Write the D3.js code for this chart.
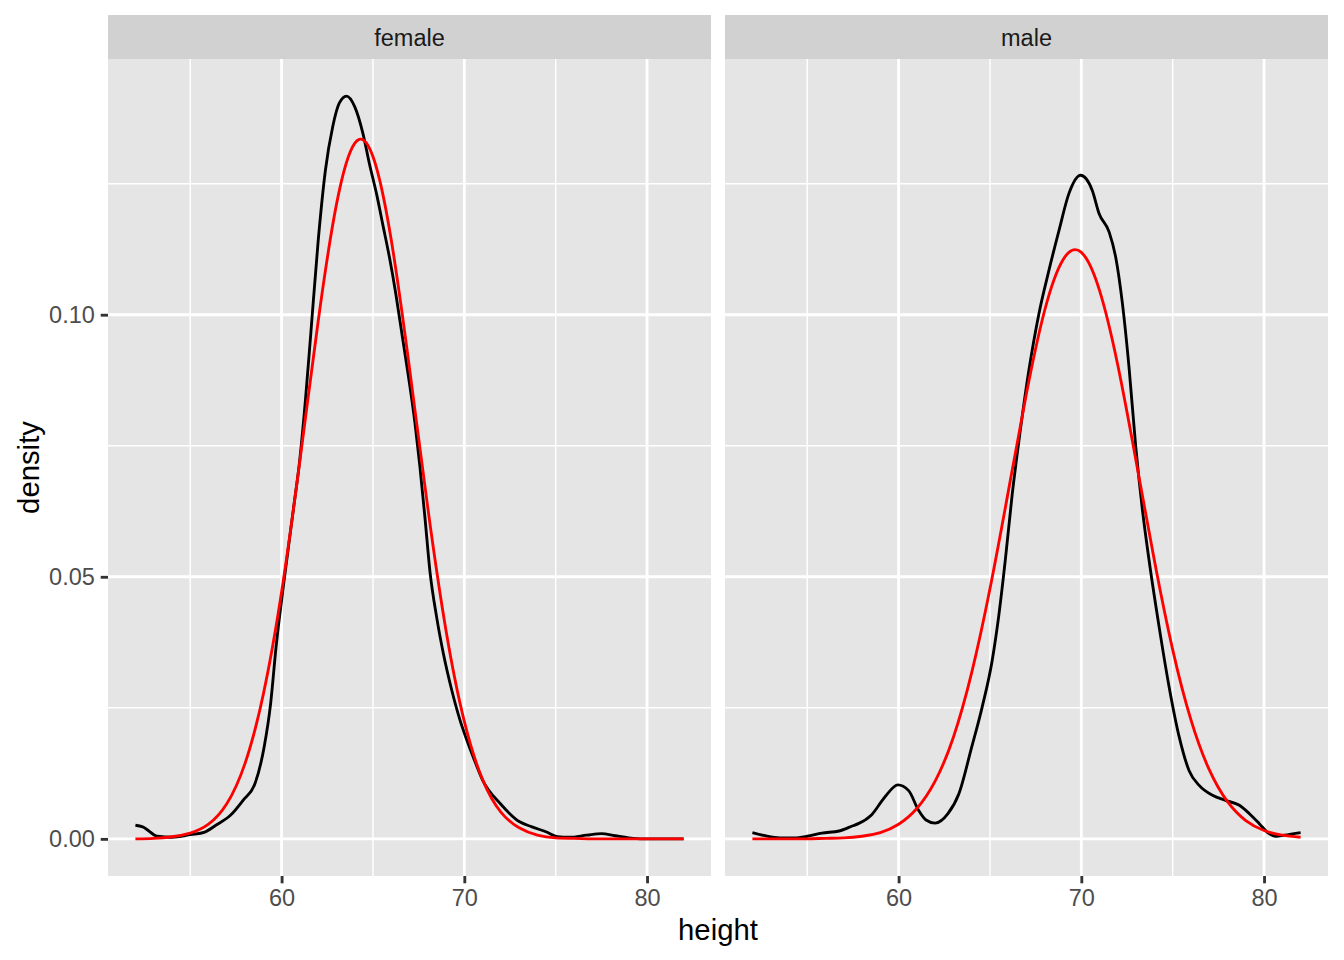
<!DOCTYPE html>
<meta charset="utf-8">
<style>

body {
  margin: 0;
  background: #fff;
}

text {
  font-family: "Liberation Sans", Arial, sans-serif;
}

.tick text {
  font-size: 23.5px;
  fill: #4D4D4D;
}

.strip-label {
  font-size: 23.5px;
  fill: #1A1A1A;
}

.axis-title {
  font-size: 29.3px;
  fill: #000;
}

</style>
<svg width="1344" height="960"></svg>
<script src="https://d3js.org/d3.v7.min.js"></script>
<script>

// facet names
var panels = ["female", "male"];

// tick values
var xTicks = [60, 70, 80],
    xMinor = [55, 65, 75],
    yTicks = [0, 0.05, 0.10],
    yMinor = [0.025, 0.075, 0.125];

// black curve: kernel density, female
var femaleDensityX = [52.0, 52.4, 53.2, 54.0, 55.0, 55.8, 56.4, 57.2, 57.9, 58.55, 59.05, 59.4, 59.7, 60.1,
  60.65, 61.0, 61.3, 61.6, 62.0, 62.4, 62.8, 63.15, 63.55, 64.0, 64.45, 64.8, 65.2, 65.55, 65.9,
  66.25, 66.57, 66.93, 67.3, 67.57, 67.84, 68.12, 68.48, 68.85, 69.31, 69.76, 70.1, 70.5, 71.0,
  72.0, 73.0, 73.7, 74.5, 75.1, 75.75, 76.7, 77.5, 78.25, 79.0, 79.8, 81.0, 82.0];
var femaleDensityY = [0.0026, 0.0023, 0.0005, 0.0003, 0.0008, 0.0013, 0.0026, 0.0045, 0.0074, 0.0106, 0.0176, 0.0258, 0.0367, 0.0483,
  0.0630, 0.0725, 0.0835, 0.0965, 0.1140, 0.1276, 0.1359, 0.1403, 0.1417, 0.1397, 0.1346, 0.1289, 0.1230, 0.1170, 0.1110,
  0.1040, 0.0967, 0.0885, 0.0793, 0.0710, 0.0615, 0.0510, 0.0424, 0.0354, 0.0284, 0.0227, 0.0192, 0.0155, 0.0112,
  0.0066, 0.0033, 0.0023, 0.0013, 0.0004, 0.0003, 0.0007, 0.0010, 0.0006, 0.0002, 0.0000, 0.0000, 0.0000];

// black curve: kernel density, male
var maleDensityX = [52.0, 52.7, 53.5, 54.3, 55.0, 55.8, 56.75, 57.5, 57.8, 58.5, 59.25, 59.96, 60.55, 61.1, 61.5,
  62.0, 62.7, 63.3, 64.0, 64.57, 65.12, 65.48, 65.85, 66.22, 66.55, 67.13, 67.68, 68.23, 68.78, 69.32,
  69.96, 70.6, 70.97, 71.52, 71.88, 72.25, 72.61, 72.98, 73.35, 73.71, 74.26, 74.81, 75.36, 75.9, 76.45,
  77.18, 77.92, 78.65, 79.2, 79.74, 80.2, 80.65, 81.1, 82.0];
var maleDensityY = [0.0012, 0.0006, 0.0002, 0.0002, 0.0005, 0.0011, 0.0015, 0.0025, 0.0029, 0.0045, 0.0080, 0.0103, 0.0092, 0.0054, 0.0036,
  0.0030, 0.0048, 0.0086, 0.0175, 0.0251, 0.0340, 0.0425, 0.0535, 0.0658, 0.0750, 0.0894, 0.1002, 0.1085, 0.1161, 0.1231,
  0.1266, 0.1237, 0.1193, 0.1158, 0.1110, 0.1021, 0.0900, 0.0748, 0.0626, 0.0531, 0.0404, 0.0289, 0.0194, 0.0130, 0.0102,
  0.0083, 0.0073, 0.0064, 0.0048, 0.0029, 0.0012, 0.0005, 0.0007, 0.0012];

// red curve: fitted normal, sampled at whole inches
var normalX = [52, 53, 54, 55, 56, 57, 58, 59, 60, 61, 62, 63, 64, 65, 66, 67,
  68, 69, 70, 71, 72, 73, 74, 75, 76, 77, 78, 79, 80, 81, 82];
var femaleNormalY = [0.0000, 0.0001, 0.0004, 0.0011, 0.0028, 0.0067, 0.0144, 0.0276, 0.0471, 0.0721, 0.0987, 0.1210, 0.1327, 0.1302, 0.1143, 0.0898,
  0.0632, 0.0397, 0.0224, 0.0113, 0.0051, 0.0021, 0.0007, 0.0002, 0.0001, 0.0000, 0.0000, 0.0000, 0.0000, 0.0000, 0.0000];
var maleNormalY = [0.0000, 0.0000, 0.0000, 0.0000, 0.0001, 0.0002, 0.0005, 0.0012, 0.0028, 0.0058, 0.0110, 0.0194, 0.0317, 0.0477, 0.0662, 0.0850,
  0.1009, 0.1105, 0.1119, 0.1046, 0.0903, 0.0720, 0.0531, 0.0361, 0.0227, 0.0132, 0.0071, 0.0035, 0.0016, 0.0007, 0.0003];

var facets = [
  {name: panels[0], dx: femaleDensityX, dy: femaleDensityY, ny: femaleNormalY},
  {name: panels[1], dx: maleDensityX, dy: maleDensityY, ny: maleNormalY}
];

var svg = d3.select("svg"),
    marginLeft = 108, marginTop = 59,
    panelW = 603, panelH = 817,
    gap = 14, stripH = 44,
    lw = 2.85, tickLen = 7.3, tickPad = 5.9;

// ggplot style 5% expansion
var xExt = d3.extent(femaleDensityX.concat(maleDensityX, normalX)),
    xPad = (xExt[1] - xExt[0]) * 0.05;
var yMax = d3.max(femaleDensityY.concat(maleDensityY, femaleNormalY, maleNormalY)),
    yPad = yMax * 0.05;

var x = d3.scaleLinear().domain([xExt[0] - xPad, xExt[1] + xPad]).range([0, panelW]);
var y = d3.scaleLinear().domain([-yPad, yMax + yPad]).range([panelH, 0]);

var lineDensity = d3.line()
    .x(function(d) { return x(d[0]); })
    .y(function(d) { return y(d[1]); })
    .curve(d3.curveMonotoneX);

// even spacing in x, so a natural spline stays smooth
var lineNormal = d3.line()
    .x(function(d) { return x(d[0]); })
    .y(function(d) { return y(d[1]); })
    .curve(d3.curveNatural);

facets.forEach(function(f, i) {
  var g = svg.append("g")
      .attr("transform", "translate(" + (marginLeft + i * (panelW + gap)) + "," + marginTop + ")");

  // strip
  g.append("rect")
      .attr("x", 0).attr("y", -stripH)
      .attr("width", panelW).attr("height", stripH)
      .attr("fill", "#D1D1D1");
  g.append("text")
      .attr("class", "strip-label")
      .attr("x", panelW / 2).attr("y", -stripH / 2 + 1)
      .attr("dy", "0.35em")
      .attr("text-anchor", "middle")
      .text(f.name);

  // panel background
  g.append("rect")
      .attr("width", panelW).attr("height", panelH)
      .attr("fill", "#E5E5E5");

  // minor grid
  g.selectAll(".vminor").data(xMinor).enter().append("line")
      .attr("x1", x).attr("x2", x).attr("y1", 0).attr("y2", panelH)
      .attr("stroke", "#fff").attr("stroke-width", lw / 2);
  g.selectAll(".hminor").data(yMinor).enter().append("line")
      .attr("y1", y).attr("y2", y).attr("x1", 0).attr("x2", panelW)
      .attr("stroke", "#fff").attr("stroke-width", lw / 2);

  // major grid
  g.selectAll(".vmajor").data(xTicks).enter().append("line")
      .attr("x1", x).attr("x2", x).attr("y1", 0).attr("y2", panelH)
      .attr("stroke", "#fff").attr("stroke-width", lw);
  g.selectAll(".hmajor").data(yTicks).enter().append("line")
      .attr("y1", y).attr("y2", y).attr("x1", 0).attr("x2", panelW)
      .attr("stroke", "#fff").attr("stroke-width", lw);

  // curves
  g.append("path")
      .datum(d3.zip(f.dx, f.dy))
      .attr("d", lineDensity)
      .attr("fill", "none").attr("stroke", "#000").attr("stroke-width", lw);
  g.append("path")
      .datum(d3.zip(normalX, f.ny))
      .attr("d", lineNormal)
      .attr("fill", "none").attr("stroke", "#FF0000").attr("stroke-width", lw);

  // x axis
  var xa = g.append("g")
      .attr("transform", "translate(0," + panelH + ")")
      .call(d3.axisBottom(x).tickValues(xTicks).tickSize(tickLen).tickPadding(tickPad));
  xa.select(".domain").remove();
  xa.selectAll(".tick line").attr("stroke", "#333").attr("stroke-width", lw);

  // y axis only on the first panel
  if (i === 0) {
    var ya = g.append("g")
        .call(d3.axisLeft(y).tickValues(yTicks).tickFormat(d3.format(".2f")).tickSize(tickLen).tickPadding(tickPad));
    ya.select(".domain").remove();
    ya.selectAll(".tick line").attr("stroke", "#333").attr("stroke-width", lw);
  }
});

// axis titles
svg.append("text")
    .attr("class", "axis-title")
    .attr("x", marginLeft + panelW + gap / 2)
    .attr("y", 940)
    .attr("text-anchor", "middle")
    .text("height");

svg.append("text")
    .attr("class", "axis-title")
    .attr("transform", "translate(28.5," + (marginTop + panelH / 2) + ") rotate(-90)")
    .attr("dy", "0.35em")
    .attr("text-anchor", "middle")
    .text("density");

</script>
